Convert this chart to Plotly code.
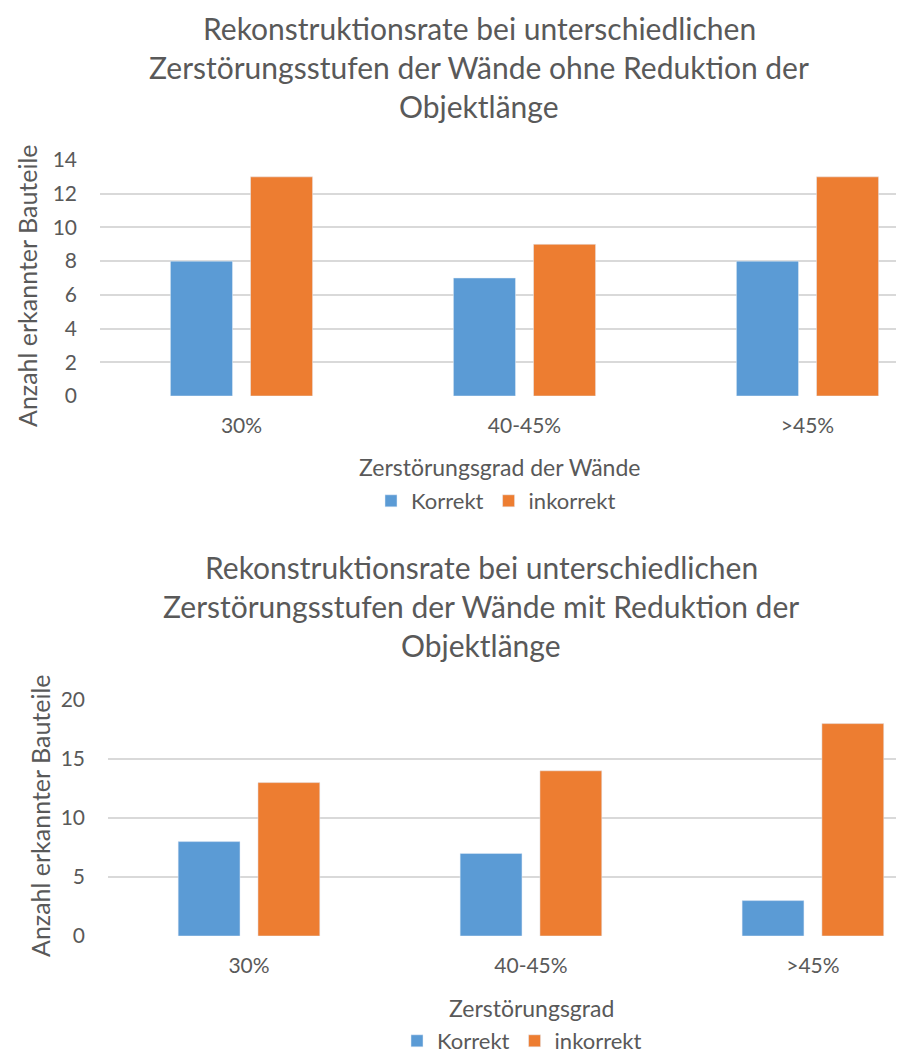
import plotly.graph_objects as go

# Zerstörungsgrad categories
categories = ['30%', '40-45%', '>45%']

# ohne Reduktion der Objektlänge
korrekt_ohne = [8, 7, 8]
inkorrekt_ohne = [13, 9, 13]

# mit Reduktion der Objektlänge
korrekt_mit = [8, 7, 3]
inkorrekt_mit = [13, 14, 18]

blue = '#5b9bd5'
orange = '#ed7d31'
grey_text = '#595959'
grid = '#d9d9d9'
font_family = 'Lato, Open Sans, sans-serif'

# page body adds an 8px margin, so the figure is a bit smaller than the window
W = 896
H = 1045

def py(pix):
    return 1 - pix / H

def px(pix):
    return pix / W

fig = go.Figure()

# top chart
fig.add_trace(go.Bar(x=categories, y=korrekt_ohne, name='Korrekt', marker_color=blue,
                     xaxis='x', yaxis='y', legend='legend'))
fig.add_trace(go.Bar(x=categories, y=inkorrekt_ohne, name='inkorrekt', marker_color=orange,
                     xaxis='x', yaxis='y', legend='legend'))
# bottom chart
fig.add_trace(go.Bar(x=categories, y=korrekt_mit, name='Korrekt', marker_color=blue,
                     xaxis='x2', yaxis='y2', legend='legend2'))
fig.add_trace(go.Bar(x=categories, y=inkorrekt_mit, name='inkorrekt', marker_color=orange,
                     xaxis='x2', yaxis='y2', legend='legend2'))

xaxis_common = dict(showline=False, zeroline=False, ticks='', showgrid=False,
                    tickfont=dict(size=21, color=grey_text), ticklabelstandoff=15)
yaxis_common = dict(showline=False, zeroline=False, ticks='', showgrid=True,
                    gridcolor=grid, gridwidth=1.8,
                    tickfont=dict(size=21, color=grey_text), ticklabelstandoff=22)

def title_lines(lines, x, ys):
    return [dict(text=t, x=px(x), y=py(y), xref='paper', yref='paper', showarrow=False,
                 xanchor='center', yanchor='middle', font=dict(size=30, color=grey_text))
            for t, y in zip(lines, ys)]

annotations = []
annotations += title_lines(['Rekonstruktionsrate bei unterschiedlichen',
                            'Zerstörungsstufen der Wände ohne Reduktion der',
                            'Objektlänge'], 471, [20, 59, 98])
annotations += title_lines(['Rekonstruktionsrate bei unterschiedlichen',
                            'Zerstörungsstufen der Wände mit Reduktion der',
                            'Objektlänge'], 473, [559, 598, 637])
annotations += [
    dict(text='Anzahl erkannter Bauteile', textangle=-90, x=px(19), y=py(278),
         xref='paper', yref='paper', showarrow=False, xanchor='center', yanchor='middle',
         font=dict(size=25, color=grey_text)),
    dict(text='Anzahl erkannter Bauteile', textangle=-90, x=px(32), y=py(808),
         xref='paper', yref='paper', showarrow=False, xanchor='center', yanchor='middle',
         font=dict(size=25, color=grey_text)),
    dict(text='Zerstörungsgrad der Wände', x=px(491), y=py(459),
         xref='paper', yref='paper', showarrow=False, xanchor='center', yanchor='middle',
         font=dict(size=23, color=grey_text)),
    dict(text='Zerstörungsgrad', x=px(523), y=py(1000),
         xref='paper', yref='paper', showarrow=False, xanchor='center', yanchor='middle',
         font=dict(size=23, color=grey_text)),
]

fig.update_layout(
    width=W, height=H,
    margin=dict(l=0, r=0, t=0, b=0, autoexpand=False),
    paper_bgcolor='white', plot_bgcolor='white',
    font=dict(family=font_family, color=grey_text),
    barmode='group', bargap=0.434, bargroupgap=0.225,
    xaxis=dict(domain=[px(92), 1], anchor='y', range=[-0.5, 2.341], **xaxis_common),
    yaxis=dict(domain=[py(388), py(152)], anchor='x', range=[0, 14], dtick=2, **yaxis_common),
    xaxis2=dict(domain=[px(100), 1], anchor='y2', range=[-0.5, 2.323], **xaxis_common),
    yaxis2=dict(domain=[py(928), py(692)], anchor='x2', range=[0, 20], dtick=5, **yaxis_common),
    legend=dict(orientation='h', x=px(488), xanchor='center', y=py(493), yanchor='middle',
                xref='container', yref='container',
                font=dict(size=22, color=grey_text), itemwidth=30, traceorder='normal'),
    legend2=dict(orientation='h', x=px(514), xanchor='center', y=py(1033), yanchor='middle',
                 xref='container', yref='container',
                 font=dict(size=22, color=grey_text), itemwidth=30, traceorder='normal'),
    annotations=annotations,
)

fig.write_html('out.html')
